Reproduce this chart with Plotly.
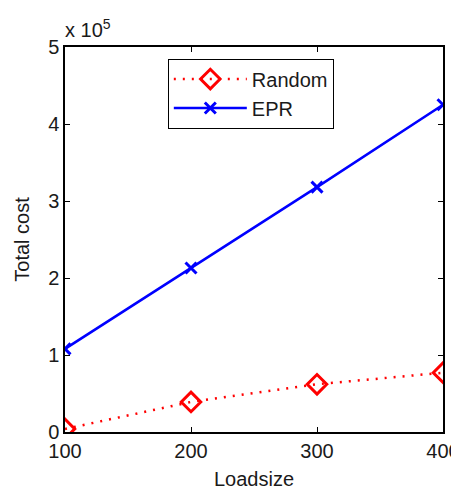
import plotly.graph_objects as go

loadsize = [100, 200, 300, 400]
random_cost = [0.04, 0.39, 0.62, 0.77]
epr_cost = [1.08, 2.13, 3.18, 4.25]
y_ticks = [0, 1, 2, 3, 4, 5]
x_ticks = [100, 200, 300, 400]

FONT = "Liberation Sans, Arial, Helvetica, sans-serif"
TXT = "#1a1a1a"

fig = go.Figure()
fig.add_trace(go.Scatter(
    x=loadsize, y=random_cost, name="Random", mode="lines+markers",
    line=dict(color="#ff0000", width=2.5, dash="2px,7px"),
    marker=dict(symbol="diamond-open", size=15, color="#ff0000", line=dict(width=3, color="#ff0000")),
))
fig.add_trace(go.Scatter(
    x=loadsize, y=epr_cost, name="EPR", mode="lines+markers",
    line=dict(color="#0000ff", width=2.5),
    marker=dict(symbol="x-thin-open", size=11, color="#0000ff", line=dict(width=3, color="#0000ff")),
))

axis_common = dict(
    showline=True, linecolor="black", linewidth=1.5, mirror="ticks",
    ticks="inside", ticklen=5, tickcolor="black", tickwidth=1,
    showgrid=False, zeroline=False, automargin=False,
    ticklabeloverflow="allow",
    tickfont=dict(family=FONT, size=20, color=TXT),
)
# the page body has an 8px margin, so the figure is sized/offset to compensate
fig.update_layout(
    width=451, height=484,
    margin=dict(l=57, r=16, t=39, b=60, autoexpand=False),
    plot_bgcolor="white", paper_bgcolor="white",
    font=dict(family=FONT, size=20, color=TXT),
    xaxis=dict(range=[100, 400], tickvals=x_ticks,
               title=dict(text="Loadsize", font=dict(size=20), standoff=11), **axis_common),
    yaxis=dict(range=[0, 5], tickvals=y_ticks,
               title=dict(text="Total cost", font=dict(size=20), standoff=13), **axis_common),
    legend=dict(x=0.272, y=0.97, xanchor="left", yanchor="top",
                bordercolor="black", borderwidth=1, bgcolor="white",
                font=dict(size=20), itemwidth=73, tracegroupgap=0),
    showlegend=True,
)
fig.add_annotation(
    text="x 10<sup>5</sup>", xref="paper", yref="paper", x=0, y=1.0,
    xanchor="left", yanchor="bottom", showarrow=False,
    font=dict(size=20, color=TXT), yshift=4, xshift=-2,
)
fig.write_html("out.html")
